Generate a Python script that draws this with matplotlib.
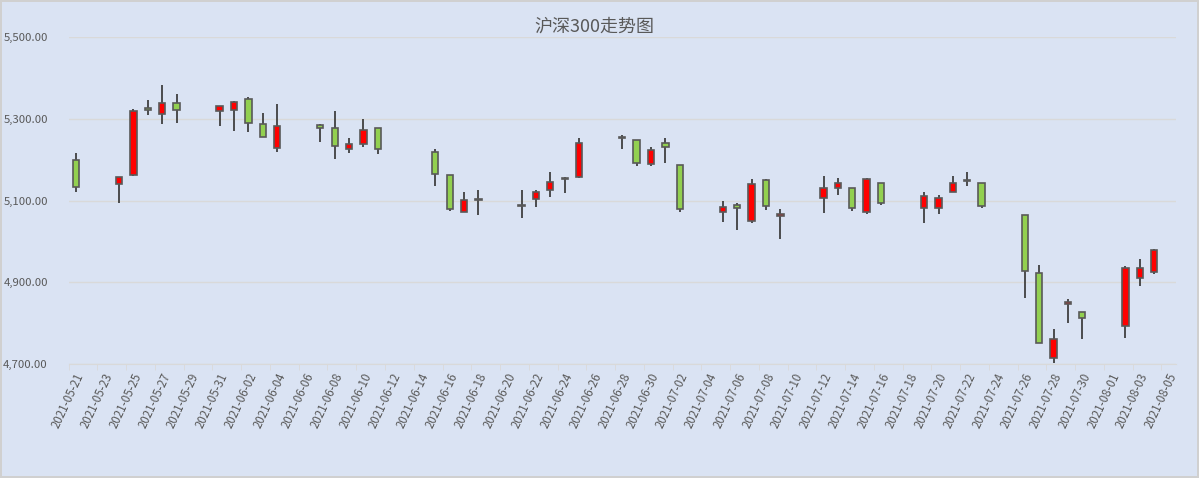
import matplotlib
matplotlib.use("Agg")
import matplotlib.pyplot as plt
import matplotlib.dates as mdates
import matplotlib.transforms as mtransforms
from matplotlib.ticker import FuncFormatter
import pandas as pd

plt.rcParams['font.family'] = ['Noto Sans CJK SC', 'DejaVu Sans']

# daily candles (CSI 300)
dates = ['2021-05-21', '2021-05-24', '2021-05-25', '2021-05-26', '2021-05-27', '2021-05-28',
         '2021-05-31', '2021-06-01', '2021-06-02', '2021-06-03', '2021-06-04',
         '2021-06-07', '2021-06-08', '2021-06-09', '2021-06-10', '2021-06-11',
         '2021-06-15', '2021-06-16', '2021-06-17', '2021-06-18',
         '2021-06-21', '2021-06-22', '2021-06-23', '2021-06-24', '2021-06-25',
         '2021-06-28', '2021-06-29', '2021-06-30', '2021-07-01', '2021-07-02',
         '2021-07-05', '2021-07-06', '2021-07-07', '2021-07-08', '2021-07-09',
         '2021-07-12', '2021-07-13', '2021-07-14', '2021-07-15', '2021-07-16',
         '2021-07-19', '2021-07-20', '2021-07-21', '2021-07-22', '2021-07-23',
         '2021-07-26', '2021-07-27', '2021-07-28', '2021-07-29', '2021-07-30',
         '2021-08-02', '2021-08-03', '2021-08-04']
opens = [5199, 5140, 5163, 5327, 5312, 5340,
         5319, 5322, 5349, 5288, 5228,
         5285, 5278, 5226, 5238, 5278,
         5218, 5164, 5072, 5101,
         5088, 5104, 5127, 5154, 5158,
         5254, 5249, 5189, 5241, 5187,
         5073, 5090, 5050, 5150, 5063,
         5107, 5130, 5130, 5073, 5142,
         5083, 5081, 5122, 5149, 5144,
         5066, 4924, 4714, 4846, 4827,
         4794, 4910, 4926]
highs = [5216, 5157, 5325, 5347, 5382, 5362,
         5332, 5345, 5354, 5315, 5337,
         5288, 5320, 5253, 5300, 5278,
         5226, 5164, 5122, 5127,
         5125, 5125, 5171, 5159, 5253,
         5261, 5249, 5231, 5254, 5187,
         5098, 5093, 5152, 5152, 5080,
         5160, 5155, 5130, 5155, 5142,
         5120, 5115, 5161, 5171, 5144,
         5066, 4942, 4785, 4859, 4827,
         4939, 4956, 4981]
lows = [5121, 5093, 5161, 5310, 5288, 5290,
        5283, 5270, 5268, 5256, 5220,
        5243, 5201, 5216, 5231, 5214,
        5136, 5074, 5072, 5065,
        5057, 5084, 5109, 5119, 5155,
        5226, 5184, 5186, 5192, 5073,
        5047, 5028, 5046, 5078, 5006,
        5070, 5115, 5075, 5068, 5090,
        5046, 5068, 5122, 5137, 5081,
        4861, 4751, 4702, 4800, 4761,
        4763, 4890, 4920]
closes = [5134, 5157, 5320, 5322, 5340, 5322,
          5332, 5342, 5290, 5256, 5283,
          5278, 5233, 5238, 5273, 5226,
          5166, 5079, 5102, 5103,
          5089, 5122, 5146, 5155, 5241,
          5255, 5191, 5224, 5231, 5079,
          5085, 5083, 5140, 5088, 5068,
          5132, 5142, 5083, 5152, 5095,
          5112, 5107, 5144, 5151, 5088,
          4927, 4751, 4761, 4851, 4812,
          4934, 4934, 4978]

x_start = '2021-05-21'
x_end = '2021-08-05'

bg = '#DAE3F3'
edge = '#595959'
up_color = '#FF0000'
down_color = '#92D050'

x = mdates.date2num(pd.to_datetime(dates))
body_bottom = [min(o, c) for o, c in zip(opens, closes)]
body_height = [max(abs(c - o), 0.8) for o, c in zip(opens, closes)]
colors = [up_color if c >= o else down_color for o, c in zip(opens, closes)]

fig = plt.figure(figsize=(11.99, 4.78), dpi=100)
fig.patch.set_facecolor(bg)
fig.patch.set_edgecolor('#D0D0D0')
fig.patch.set_linewidth(1.5)
ax = fig.add_axes([0.0573, 0.2385, 0.9233, 0.6835])
ax.set_facecolor(bg)

ax.vlines(x, lows, highs, color='#404040', linewidth=1.3, zorder=2)
ax.bar(x, body_height, bottom=body_bottom, width=0.44, color=colors,
       edgecolor=edge, linewidth=1.2, zorder=3)

x0 = mdates.date2num(pd.Timestamp(x_start))
x1 = mdates.date2num(pd.Timestamp(x_end))
ax.set_xlim(x0 - 0.5, x1 + 0.5)
ax.set_ylim(4700, 5500)
ax.set_yticks([4700, 4900, 5100, 5300, 5500])
ax.yaxis.set_major_formatter(FuncFormatter(lambda v, p: f'{v:,.2f}'))
ax.grid(axis='y', color='#D9D9D9', linewidth=1)
ax.set_axisbelow(True)

label_pos = [x0 + k for k in range(0, int(x1 - x0) + 1, 2)]
ax.set_xticks(label_pos)
ax.set_xticklabels([mdates.num2date(v).strftime('%Y-%m-%d') for v in label_pos])
ax.set_xticks([v - 0.5 for v in label_pos], minor=True)
ax.tick_params(axis='x', which='major', length=0, pad=7, labelsize=8.3, labelcolor='#595959')
ax.tick_params(axis='x', which='minor', length=4, color='#D9D9D9')
ax.tick_params(axis='y', length=0, pad=15, labelsize=8.2, labelcolor='#595959')
shift = mtransforms.ScaledTranslation(5 / 100, 0, fig.dpi_scale_trans)
for lab in ax.get_xticklabels():
    lab.set_rotation(65)
    lab.set_ha('right')
    lab.set_va('center')
    lab.set_rotation_mode('anchor')
    lab.set_transform(lab.get_transform() + shift)

for side in ['top', 'right', 'left']:
    ax.spines[side].set_visible(False)
ax.spines['bottom'].set_color('#D9D9D9')

fig.text(0.496, 0.944, '沪深300走势图', ha='center', va='center', fontsize=13, color='#595959')

plt.savefig('out.png', dpi=100, facecolor=fig.get_facecolor(), edgecolor=fig.get_edgecolor())
